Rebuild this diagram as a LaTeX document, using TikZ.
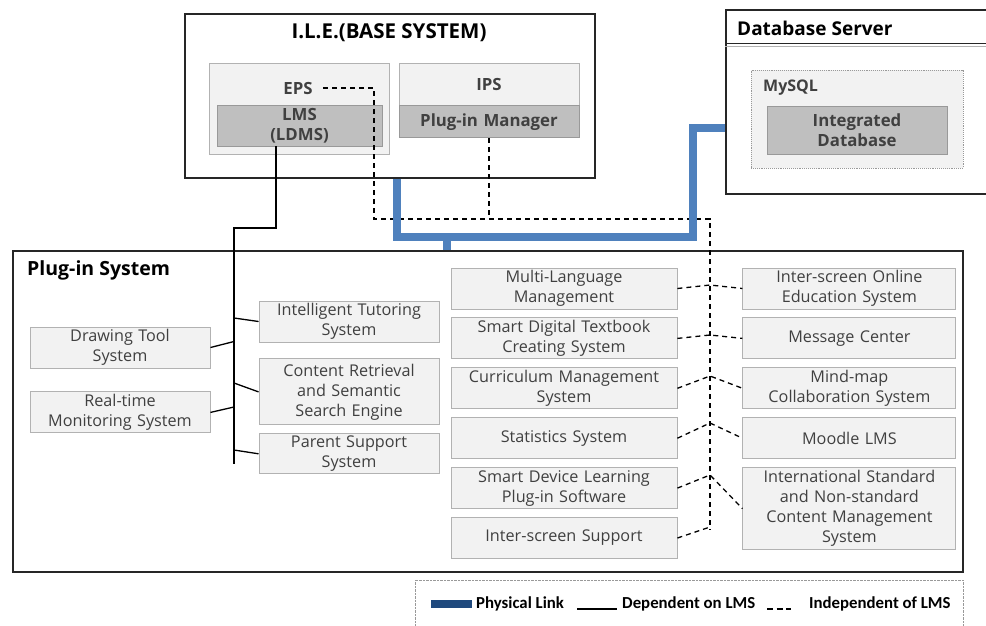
\documentclass[tikz,border=0pt]{standalone}
\usepackage{fontspec}
\setmainfont{Open Sans}
\newfontfamily\legendfont{Carlito}
\usetikzlibrary{positioning}
\definecolor{linkblue}{RGB}{79,129,189}
\definecolor{legendblue}{RGB}{31,73,125}
\definecolor{boxgray}{RGB}{242,242,242}
\definecolor{coregray}{RGB}{191,191,191}
\definecolor{txtgray}{RGB}{64,64,64}
\tikzset{
  sysbox/.style = {rectangle, draw=black!85, line width=1.3pt, fill=white, inner sep=0pt},
  compbox/.style = {rectangle, draw=black!30, fill=boxgray, line width=0.9pt, inner sep=0pt, align=center},
  corebox/.style = {rectangle, draw=black!40, fill=coregray, line width=0.9pt, inner sep=0pt, align=center, text=txtgray, font=\fontsize{16.8}{20}\selectfont\bfseries},
  plugbox/.style = {compbox, text=txtgray, minimum height=41pt, font=\fontsize{16.2}{20}\selectfont},
  title/.style = {inner sep=0pt, font=\fontsize{19}{23}\selectfont\bfseries},
  physical/.style = {linkblue, line width=7.5pt},
  deplink/.style = {line width=1.3pt},
  indlink/.style = {line width=1.3pt, dash pattern=on 5pt off 4pt},
  legendtext/.style = {anchor=west, inner sep=0pt, font=\legendfont\fontsize{16.8}{18}\selectfont\bfseries},
}

\begin{document}
\begin{tikzpicture}[x=1pt, y=-1pt, node distance=8pt]
    \useasboundingbox (0,0) rectangle (986,625);

    % Base system
    \node (ile) [sysbox, minimum width=410pt, minimum height=164pt] at (390,96) {};
    \node (iletitle) [title, font=\fontsize{20.5}{24}\selectfont\bfseries] at (389,33) {I.L.E.(BASE SYSTEM)};
    \node (eps) [compbox, minimum width=180pt, minimum height=91pt] at (299,108.5) {};
    \node (epsl) [corebox, fill=none, draw=none] at (298,88) {EPS};
    \node (lms) [corebox, text width=165pt, minimum height=41pt] at (299.5,125.5) {LMS\\(LDMS)};
    \node (ips) [compbox, text=txtgray, font=\fontsize{16.8}{20}\selectfont\bfseries, minimum width=180pt, minimum height=42pt] at (489,84) {IPS};
    \node (pim) [corebox, text width=180pt, minimum height=32pt, below=0pt of ips] {Plug-in Manager};

    % Database server
    \node (dbs) [sysbox, minimum width=268pt, minimum height=184pt] at (860,102) {};
    \node (dbtitle) [title, anchor=west] at (737,28) {Database Server};
    \node (mysql) [compbox, draw=black!40, densely dotted, minimum width=212pt, minimum height=98pt] at (857,119) {};
    \node (mysqll) [title, anchor=west, text=txtgray, font=\fontsize{16}{20}\selectfont\bfseries] at (763,88) {MySQL};
    \node (idb) [corebox, text width=180pt, minimum height=48pt] at (857,130) {Integrated\\Database};

    % Plug-in system
    \node (plg) [sysbox, minimum width=950pt, minimum height=321pt] at (488,411.5) {};
    \node (plgtitle) [title, anchor=west, font=\fontsize{19.5}{23}\selectfont\bfseries] at (27,270) {Plug-in System};

    \node (dts) [plugbox, text width=180pt] at (120,347.5) {Drawing Tool\\System};
    \node (rms) [plugbox, text width=180pt, below=23pt of dts] {Real-time\\Monitoring System};
    \node (its) [plugbox, text width=180pt] at (349,321.5) {Intelligent Tutoring\\System};
    \node (crs) [plugbox, text width=180pt, minimum height=66pt, below=16pt of its] {Content Retrieval\\and Semantic\\Search Engine};
    \node (pss) [plugbox, text width=180pt, minimum height=40pt, below=of crs] {Parent Support\\System};

    \node (mlm) [plugbox, text width=226pt] at (564,288.5) {Multi-Language\\Management};
    \node (sdt) [plugbox, text width=226pt, below=of mlm] {Smart Digital Textbook\\Creating System};
    \node (cms) [plugbox, text width=226pt, below=of sdt] {Curriculum Management\\System};
    \node (sts) [plugbox, text width=226pt, below=of cms] {Statistics System};
    \node (sdl) [plugbox, text width=226pt, below=of sts] {Smart Device Learning\\Plug-in Software};
    \node (iss) [plugbox, text width=226pt, below=of sdl] {Inter-screen Support};

    \node (ioe) [plugbox, text width=213pt, right=65pt of mlm] {Inter-screen Online\\Education System};
    \node (msg) [plugbox, text width=213pt, below=of ioe] {Message Center};
    \node (mmc) [plugbox, text width=213pt, below=of msg] {Mind-map\\Collaboration System};
    \node (mdl) [plugbox, text width=213pt, below=of mmc] {Moodle LMS};
    \node (isc) [plugbox, text width=213pt, minimum height=82pt, below=of mdl] {International Standard\\and Non-standard\\Content Management\\System};

    % Legend
    \node (legend) [rectangle, draw=black!40, densely dotted, minimum width=548pt, minimum height=70pt] at (689,615) {};
    \node (legbar) [rectangle, fill=legendblue, minimum width=41pt, minimum height=8pt, inner sep=0pt] at (451.5,604) {};
    \node (legphys) [legendtext] at (476,604) {Physical Link};
    \coordinate (legdepa) at (577,609);
    \coordinate (legdepb) at (617,609);
    \node (legdep) [legendtext] at (622,604) {Dependent on LMS};
    \coordinate (leginda) at (767,609);
    \coordinate (legindb) at (791,609);
    \node (legind) [legendtext] at (809,604) {Independent of LMS};

    % Bus points
    \coordinate (lmsdrop) at (276,228);
    \coordinate (depbot) at (234,464);
    \coordinate (b-dts) at (234,341.5);
    \coordinate (b-rms) at (234,407);
    \coordinate (b-its) at (234,318);
    \coordinate (b-crs) at (234,383);
    \coordinate (b-pss) at (234,450);

    \coordinate (indtop) at (374,219);
    \coordinate (indbus) at (710,219);
    \coordinate (indbot) at (710,530);
    \coordinate (j1) at (710,285);
    \coordinate (j2) at (710,335);
    \coordinate (j3) at (710,376);
    \coordinate (j4) at (710,423);
    \coordinate (j5) at (710,475);
    \coordinate (j6) at (710,527);

    \coordinate (busL) at (397,237);
    \coordinate (busR) at (693,237);
    \coordinate (busT) at (447,237);
    \coordinate (dbin) at (693,128);

    % Dependent on LMS
    \draw [deplink] (lms.south -| lmsdrop) -- (lmsdrop) -| (depbot);
    \draw [deplink] (dts.east) -- (b-dts);
    \draw [deplink] (rms.east) -- (b-rms);
    \draw [deplink] (b-its) -- (its.west);
    \draw [deplink] (b-crs) -- (crs.west);
    \draw [deplink] (b-pss) -- (pss.west);

    % Independent of LMS
    \draw [indlink] ([xshift=10pt]epsl.east) -| (indtop) -- (indbus) -- (indbot);
    \draw [indlink] (pim.south) -- (pim.south |- indtop);
    \draw [indlink] (mlm.east) -- (j1) -- (ioe.west);
    \draw [indlink] (sdt.east) -- (j2) -- (msg.west);
    \draw [indlink] (cms.east) -- (j3) -- (mmc.west);
    \draw [indlink] (sts.east) -- (j4) -- (mdl.west);
    \draw [indlink] (sdl.east) -- (j5) -- (isc.west);
    \draw [indlink] (iss.east) -- (j6);

    % Physical link
    \draw [physical] (ile.south -| busL) -- (busL) -- (busR) -- (dbin) -- (dbin -| dbs.west);
    \draw [physical] (busT) -- (busT |- plg.north);

    % Database title rule
    \draw [black!85, line width=1.2pt] (dbs.north west) ++(0,34) coordinate (dbrule) -- (dbrule -| dbs.east);
    \draw [black!30, line width=0.8pt] ([yshift=-3.5pt]dbrule) -- ([yshift=-3.5pt]dbrule -| dbs.east);

    % Legend lines
    \draw [line width=1.5pt] (legdepa) -- (legdepb);
    \draw [line width=1.8pt, dash pattern=on 6pt off 3.5pt] (leginda) -- (legindb);

\end{tikzpicture}
\end{document}
